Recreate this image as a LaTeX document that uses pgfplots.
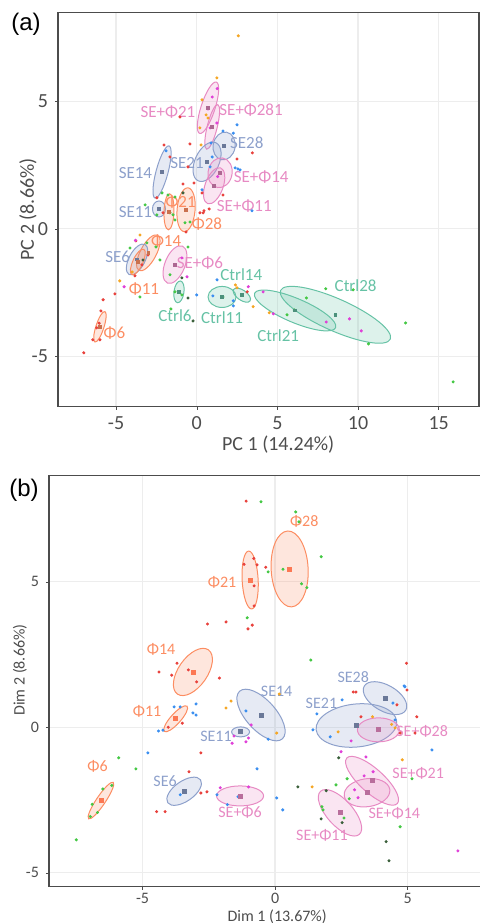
\documentclass[border=0pt]{standalone}
\usepackage{pgfplots}
\pgfplotsset{compat=1.18}
\usepackage{fontspec}
\setmainfont{Carlito}
\newfontfamily\arialf{Liberation Sans}

\definecolor{cgreen}{HTML}{66C2A5}
\definecolor{corange}{HTML}{FC8D62}
\definecolor{cblue}{HTML}{8DA0CB}
\definecolor{cpink}{HTML}{E78AC3}
\definecolor{pred}{HTML}{E8413C}
\definecolor{pgreen}{HTML}{44C844}
\definecolor{pblue}{HTML}{3A8EF0}
\definecolor{porange}{HTML}{F5A623}
\definecolor{pmag}{HTML}{E040D8}
\definecolor{pdark}{HTML}{3A5F3A}
\definecolor{txt}{HTML}{4D4D4D}

% confidence ellipse: colour, cx, cy, semi-major (pt), semi-minor (pt), angle
\newcommand{\grp}[6]{\draw[#1,line width=0.5pt,fill=#1,fill opacity=0.22] (axis cs:#2,#3) ellipse [x radius=#4pt,y radius=#5pt,rotate=#6];}

\pgfplotsset{
  pcabase/.style={
    anchor=south west,
    grid=major, grid style={gray!14, line width=0.6pt},
    axis line style={gray!60!black, line width=0.6pt},
    tick pos=left, tick align=outside, major tick length=1.5pt,
    tick style={gray!60!black},
    label style={text=txt},
    ticklabel style={text=txt},
    xlabel style={anchor=center},
    ylabel style={anchor=center},
  },
  dots/.style={only marks, mark=*, mark size=0.55pt, color=#1, mark options={draw=none}},
  ctr/.style 2 args={only marks, mark=square*, mark size=#1, color=#2, mark options={draw=none}},
}

\begin{document}
\begin{tikzpicture}

% ---------------- (a) ----------------
\begin{axis}[pcabase,
  at={(29pt,258.2pt)},
  x=8.065pt, y=12.75pt,
  xmin=-8.6, xmax=17.5, ymin=-6.97, ymax=8.5,
  xtick={-5,0,5,10,15}, xticklabels={-5,0,5,10,15},
  ytick={-5,0,5}, yticklabels={-5,0,5},
  ticklabel style={font=\fontsize{10}{12}\selectfont},
  label style={font=\fontsize{10}{12}\selectfont},
  xlabel={PC 1 (14.24\%)}, ylabel={PC 2 (8.66\%)},
  xlabel style={at={(axis description cs:0.523,-0.0963)}},
  ylabel style={at={(axis description cs:-0.0713,0.5)}},
]
\grp{cpink}{0.70}{4.75}{13.5}{3.5}{72}
\grp{cpink}{0.96}{4.0}{11.5}{2.5}{76}
\grp{cblue}{1.7}{3.25}{7}{5.5}{80}
\grp{cblue}{0.64}{2.63}{10.5}{6}{65}
\grp{cpink}{1.45}{2.2}{7.5}{6}{80}
\grp{cpink}{1.08}{1.69}{9.5}{4.5}{70}
\grp{cblue}{-2.15}{2.23}{13.5}{3}{75}
\grp{cblue}{-2.34}{0.78}{4}{3.25}{90}
\grp{corange}{-1.72}{0.67}{9}{2.5}{88}
\grp{corange}{-0.66}{0.75}{11}{4.5}{85}
\grp{corange}{-3.0}{-0.94}{10}{4}{62}
\grp{cblue}{-3.7}{-1.2}{8.5}{4}{62}
\grp{corange}{-3.65}{-1.3}{7}{2.5}{65}
\grp{cpink}{-1.35}{-1.4}{10}{5}{68}
\grp{cgreen}{-1.1}{-2.47}{5.5}{2.5}{82}
\grp{cgreen}{1.57}{-2.67}{7}{5.25}{0}
\grp{cgreen}{2.8}{-2.6}{5}{2.5}{-35}
\grp{cgreen}{6.1}{-3.2}{22}{6}{-23}
\grp{cgreen}{8.6}{-3.37}{30}{8}{-24}
\grp{corange}{-6.0}{-3.84}{8}{2}{72}

\addplot[dots=pred] coordinates {(-1.04,4.39) (-0.42,3.33) (3.45,2.98) (-2.03,3.29) (-1.66,2.82) (-0.54,2.43) (2.5,2.74) (-0.85,1.76) (-0.17,1.8) (0.33,1.41) (1.63,1.33) (0.2,0.63) (0.45,0.71) (-2.47,1.22) (-2.09,0.63) (-0.66,-0.12) (0.4,0.63) (0.77,0.78) (-3.77,-0.47) (-3.02,-1.02) (-3.4,-1.41) (-3.83,-1.84) (3.13,-2.47) (-5.8,-2.78) (-5.94,-3.22) (-5.07,-2.55) (-7.0,-4.86) (-6.2,-3.88) (-6.05,-3.7) (-6.44,-4.35) (-6.0,-4.35)};
\addplot[dots=pgreen] coordinates {(-2.15,1.41) (-1.78,1.33) (-1.35,1.25) (-3.2,0.94) (-2.47,0.55) (-1.66,0.63) (-1.35,0.35) (-1.47,0.55) (-0.73,0.24) (-0.42,0.27) (-3.09,-0.55) (-3.52,-2.67) (-2.53,-0.71) (-4.14,-0.75) (-0.54,-0.71) (-1.66,-1.8) (-2.28,-1.22) (-1.35,-2.47) (-0.92,-2.59) (-1.6,-3.14) (1.63,-2.67) (2.8,-2.59) (5.6,-3.37) (6.05,-3.18) (6.8,-2.71) (8.0,-2.35) (8.6,-3.37) (9.7,-2.39) (10.65,-4.51) (12.95,-3.69) (15.9,-6.0)};
\addplot[dots=pblue] coordinates {(2.5,4.08) (1.63,3.84) (2.27,3.75) (0.89,3.37) (-1.9,3.06) (2.38,2.39) (2.69,2.31) (0.83,2.43) (0.96,2.82) (0.33,1.53) (3.43,0.71) (0,-2.59) (1.26,-2.0) (1.0,-2.63) (2.27,-3.02) (2.27,-2.82) (2.55,2.35)};
\addplot[dots=porange] coordinates {(2.58,7.57) (1.25,5.92) (0.33,5.06) (0.58,4.47) (0.7,4.35) (0.2,3.96) (0.27,3.29) (-3.52,-0.24) (-4.77,-2.04) (-4.0,-1.69) (2.4,-2.2) (2.5,-2.31) (3.5,-3.05) (4.5,-3.29)};
\addplot[dots=pmag] coordinates {(1.27,5.5) (0.96,5.17) (0.7,4.7) (1.25,4.15) (0.83,3.96) (-4.5,-2.27) (-0.92,-1.14) (-0.6,-1.88) (3.2,-2.27) (4.12,-2.47) (4.75,-3.33) (8.03,-3.65) (9.47,-3.53) (10.2,-4.0) (-3.8,-0.45) (1.3,2.05)};
\addplot[dots=pdark] coordinates {(-0.85,1.41) (-3.33,-1.22) (-0.92,-1.92) (-0.54,-2.71) (-0.23,-3.61)};

\addplot[ctr={0.7pt}{cpink!75!black}] coordinates {(0.70,4.75) (0.96,4.0) (1.45,2.2) (1.08,1.69) (-1.35,-1.4)};
\addplot[ctr={0.7pt}{cblue!75!black}] coordinates {(1.7,3.25) (0.64,2.63) (-2.15,2.23) (-2.34,0.78) (-3.7,-1.2)};
\addplot[ctr={0.7pt}{corange!80!black}] coordinates {(-1.72,0.67) (-0.66,0.75) (-3.0,-0.94) (-3.65,-1.3) (-6.0,-3.84)};
\addplot[ctr={0.7pt}{cgreen!75!black}] coordinates {(-1.1,-2.47) (1.57,-2.67) (2.8,-2.6) (6.1,-3.2) (8.6,-3.37)};

\begin{scope}[every node/.style={font=\fontsize{8.5}{10}\selectfont, inner sep=0pt}]
\node[text=cpink] at (axis cs:-1.78,4.6) {SE+Φ21};
\node[text=cpink] at (axis cs:3.37,4.67) {SE+Φ281};
\node[text=cblue] at (axis cs:3.1,3.37) {SE28};
\node[text=cblue] at (axis cs:-0.6,2.6) {SE21};
\node[text=cblue] at (axis cs:-3.8,2.2) {SE14};
\node[text=cpink] at (axis cs:4.0,2.04) {SE+Φ14};
\node[text=cpink] at (axis cs:2.95,0.9) {SE+Φ11};
\node[text=cblue] at (axis cs:-3.8,0.67) {SE11};
\node[text=corange] at (axis cs:-1.0,1.06) {Φ21};
\node[text=corange] at (axis cs:0.64,0.2) {Φ28};
\node[text=corange] at (axis cs:-1.9,-0.47) {Φ14};
\node[text=cblue] at (axis cs:-4.9,-1.1) {SE6};
\node[text=cpink] at (axis cs:0.2,-1.33) {SE+Φ6};
\node[text=cgreen] at (axis cs:2.76,-1.8) {Ctrl14};
\node[text=cgreen] at (axis cs:9.85,-2.24) {Ctrl28};
\node[text=corange] at (axis cs:-3.27,-2.35) {Φ11};
\node[text=cgreen] at (axis cs:-1.35,-3.4) {Ctrl6};
\node[text=cgreen] at (axis cs:1.57,-3.5) {Ctrl11};
\node[text=corange] at (axis cs:-5.1,-4.08) {Φ6};
\node[text=cgreen] at (axis cs:5.05,-4.2) {Ctrl21};
\end{scope}
\end{axis}

% ---------------- (b) ----------------
\begin{axis}[pcabase,
  at={(24.5pt,18.15pt)},
  x=13.25pt, y=14.55pt,
  xmin=-8.53, xmax=7.9, ymin=-5.48, ymax=8.65,
  xtick={-5,0,5}, xticklabels={-5,0,5},
  ytick={-5,0,5}, yticklabels={-5,0,5},
  ticklabel style={font=\fontsize{8}{10}\selectfont},
  xticklabel style={yshift=2pt},
  label style={font=\fontsize{8}{10}\selectfont},
  xlabel={Dim 1 (13.67\%)}, ylabel={Dim 2 (8.66\%)},
  xlabel style={at={(axis description cs:0.524,-0.072)}},
  ylabel style={at={(axis description cs:-0.0666,0.527)}},
]
\grp{corange}{0.55}{5.44}{19}{9.25}{93}
\grp{corange}{-0.94}{5.06}{14.5}{4}{93}
\grp{corange}{-3.1}{1.9}{13.5}{7.25}{55}
\grp{corange}{-3.75}{0.29}{8.5}{2.5}{48}
\grp{corange}{-6.57}{-2.52}{11}{2.25}{56}
\grp{cblue}{-0.53}{0.42}{16}{7.5}{-48}
\grp{cblue}{-1.3}{-0.16}{4.5}{2.5}{0}
\grp{cblue}{3.07}{0.06}{20.25}{10.75}{6}
\grp{cblue}{4.15}{1.0}{12}{6.5}{-30}
\grp{cpink}{3.9}{-0.09}{10.5}{6}{0}
\grp{cblue}{-3.43}{-2.2}{10}{5}{35}
\grp{cpink}{-1.32}{-2.36}{11.75}{5}{0}
\grp{cpink}{3.66}{-1.84}{17}{6}{-42}
\grp{cpink}{3.47}{-2.25}{11.5}{7}{8}
\grp{cpink}{2.45}{-2.94}{14.5}{6.5}{-48}

\addplot[dots=pred] coordinates {(-1.09,7.77) (-0.35,5.5) (-0.8,5.8) (-0.68,5.58) (-1.17,5.6) (-0.79,4.86) (-0.79,4.17) (-2.55,3.55) (-1.85,3.62) (-0.86,3.51) (-1.02,3.38) (-3.7,2.2) (-4.38,1.9) (-3.9,1.79) (-3.27,1.97) (-2.96,1.56) (-2.1,1.69) (4.96,2.2) (2.95,1.21) (4.98,1.28) (-4.03,0) (-3.5,0.14) (-2.8,-0.88) (-3.25,-1.53) (-2.8,-2.26) (-2.57,-2.22) (-4.47,-2.9) (-4.15,-2.9) (5.35,0.36) (5.28,-0.2) (4.72,-0.2) (4.6,0.77) (3.24,0.36) (3.05,1.21)};
\addplot[dots=pgreen] coordinates {(-0.53,7.75) (0.78,7.4) (0.9,7.06) (1.74,5.86) (0.3,5.43) (-0.26,5.34) (1.0,4.93) (1.2,4.8) (-1.05,3.76) (1.35,2.31) (-5.9,-1.05) (-5.25,-1.43) (-7.5,-3.87) (-6.16,-2.0) (-6.5,-2.12) (-6.9,-2.65) (-6.7,-2.93) (-6.97,-3.07) (2.3,-1.98) (2.72,-1.77) (2.8,-2.46) (1.77,-2.73) (1.81,-2.84) (2.6,-3.12) (5.17,-1.77) (4.72,-3.42)};
\addplot[dots=pdark] coordinates {(0.86,-2.05) (1.93,-2.18) (2.4,-1.05) (1.74,-3.15) (2.53,-3.28) (4.19,-3.93) (4.3,-4.59)};
\addplot[dots=pblue] coordinates {(4.9,1.39) (-3.81,0.7) (-3.58,0.7) (-2.98,0.8) (-3.1,0.49) (-2.98,0.42) (-4.4,-0.13) (-4.23,-0.1) (-1.1,0.56) (-0.26,-0.41) (-4.8,-0.88) (-0.68,-1.43) (-3.58,-2.32) (-2.19,-2.32) (-1.8,-2.66) (-1.4,-2.39) (0.06,-2.43) (0.29,-2.84) (5.92,-0.78) (2.53,0.94) (4.87,1.42) (4.45,0.83) (4.53,0.25) (1.58,0.46) (1.43,-0.09) (2.08,-0.33)};
\addplot[dots=porange] coordinates {(-1.66,0.9) (-1.85,0.66) (0.16,1.14) (0.06,-0.2) (1.4,-2.05) (4.8,-1.12) (4.53,-0.02) (3.68,0.36) (2.38,-0.16) (4.4,0.1)};
\addplot[dots=pmag] coordinates {(-0.9,0.08) (-1.0,-0.37) (-1.62,-0.55) (-1.1,-0.5) (-2.07,-2.08) (-1.0,-2.05) (2.49,-0.84) (3.0,-2.15) (3.13,-2.42) (3.43,-1.02) (3.7,-1.53) (3.36,-1.67) (2.87,-0.47) (6.9,-4.25) (-1.55,-0.3)};

\addplot[ctr={1pt}{corange!85!red}] coordinates {(0.55,5.44) (-0.94,5.06) (-3.1,1.9) (-3.75,0.29) (-6.57,-2.52)};
\addplot[ctr={1pt}{cblue!75!black}] coordinates {(-0.53,0.42) (-1.3,-0.16) (3.07,0.06) (4.15,1.0) (-3.43,-2.2)};
\addplot[ctr={1pt}{cpink!80!black}] coordinates {(3.9,-0.09) (-1.32,-2.36) (3.66,-1.84) (3.47,-2.25) (2.45,-2.94)};

\begin{scope}[every node/.style={font=\fontsize{8}{10}\selectfont, inner sep=0pt}]
\node[text=corange] at (axis cs:1.1,7.08) {Φ28};
\node[text=corange] at (axis cs:-2.0,4.97) {Φ21};
\node[text=corange] at (axis cs:-4.3,2.69) {Φ14};
\node[text=cblue] at (axis cs:2.95,1.73) {SE28};
\node[text=cblue] at (axis cs:0.06,1.22) {SE14};
\node[text=cblue] at (axis cs:1.75,0.83) {SE21};
\node[text=corange] at (axis cs:-4.83,0.53) {Φ11};
\node[text=cblue] at (axis cs:-2.23,-0.3) {SE11};
\node[text=cpink] at (axis cs:5.55,-0.13) {SE+Φ28};
\node[text=corange] at (axis cs:-6.7,-1.33) {Φ6};
\node[text=cpink] at (axis cs:5.4,-1.6) {SE+Φ21};
\node[text=cblue] at (axis cs:-4.15,-1.87) {SE6};
\node[text=cpink] at (axis cs:-1.32,-2.94) {SE+Φ6};
\node[text=cpink] at (axis cs:4.5,-2.97) {SE+Φ14};
\node[text=cpink] at (axis cs:1.77,-3.73) {SE+Φ11};
\end{scope}
\end{axis}

\node[font=\arialf\fontsize{12}{14}\selectfont, inner sep=0pt] at (13pt,449.5pt) {(a)};
\node[font=\arialf\fontsize{12}{14}\selectfont, inner sep=0pt] at (12pt,216.5pt) {(b)};

\pgfresetboundingbox
\path[use as bounding box] (0,0) rectangle (240pt,461.5pt);
\end{tikzpicture}
\end{document}
